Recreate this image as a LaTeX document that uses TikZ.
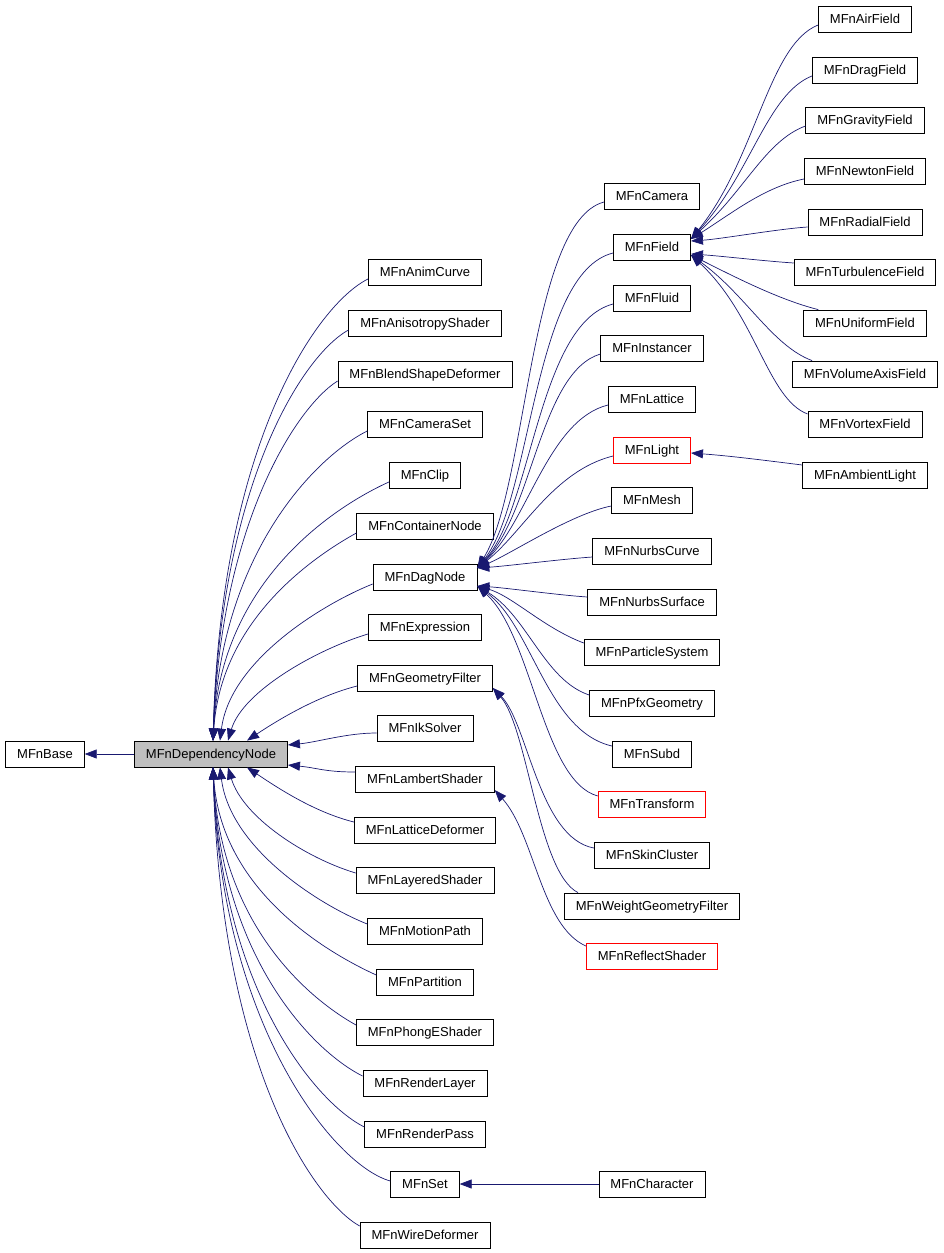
\documentclass[tikz,border=0pt]{standalone}
\usepackage{fontspec}
\setmainfont{Liberation Sans}
\usetikzlibrary{arrows.meta}
\definecolor{mblue}{HTML}{191970}
\definecolor{depgray}{HTML}{BFBFBF}
\tikzset{
  box/.style={draw=black, fill=white, line width=0.8pt, minimum height=26pt, inner xsep=11.5pt, inner ysep=0pt, text height=12pt, text depth=3pt, font=\fontsize{13}{15}\selectfont},
  redbox/.style={box, draw=red},
  inh/.style={draw=mblue, line width=0.7pt, -{Triangle[length=12pt,width=9pt]}}
}
\begin{document}
\begin{tikzpicture}[x=1pt,y=-1pt]
\useasboundingbox (0,0) rectangle (944,1253);
% base nodes
\node[box] (base) at (45,754) {MFnBase};
\node[box, fill=depgray] (dep) at (211,754) {MFnDependencyNode};
% left column
\node[box] (anim) at (425,272) {MFnAnimCurve};
\node[box] (aniso) at (425,323) {MFnAnisotropyShader};
\node[box] (blend) at (425,374) {MFnBlendShapeDeformer};
\node[box] (camset) at (425,424) {MFnCameraSet};
\node[box] (clip) at (425,475) {MFnClip};
\node[box] (cont) at (425,526) {MFnContainerNode};
\node[box] (dag) at (425,577) {MFnDagNode};
\node[box] (expr) at (425,627) {MFnExpression};
\node[box] (geo) at (425,678) {MFnGeometryFilter};
\node[box] (ik) at (425,728) {MFnIkSolver};
\node[box] (lam) at (425,779) {MFnLambertShader};
\node[box] (latd) at (425,830) {MFnLatticeDeformer};
\node[box] (layer) at (425,880) {MFnLayeredShader};
\node[box] (motion) at (425,931) {MFnMotionPath};
\node[box] (part) at (425,982) {MFnPartition};
\node[box] (phong) at (425,1032) {MFnPhongEShader};
\node[box] (rlayer) at (425,1083) {MFnRenderLayer};
\node[box] (rpass) at (425,1134) {MFnRenderPass};
\node[box] (set) at (425,1184) {MFnSet};
\node[box] (wire) at (425,1235) {MFnWireDeformer};
% middle column
\node[box] (cam) at (652,196) {MFnCamera};
\node[box] (field) at (652,247) {MFnField};
\node[box] (fluid) at (652,298) {MFnFluid};
\node[box] (inst) at (652,348) {MFnInstancer};
\node[box] (lattice) at (652,399) {MFnLattice};
\node[redbox] (light) at (652,450) {MFnLight};
\node[box] (mesh) at (652,500) {MFnMesh};
\node[box] (ncurve) at (652,551) {MFnNurbsCurve};
\node[box] (nsurf) at (652,602) {MFnNurbsSurface};
\node[box] (psys) at (652,652) {MFnParticleSystem};
\node[box] (pfx) at (652,703) {MFnPfxGeometry};
\node[box] (subd) at (652,754) {MFnSubd};
\node[redbox] (trans) at (652,804) {MFnTransform};
\node[box] (skin) at (652,855) {MFnSkinCluster};
\node[box] (wgf) at (652,906) {MFnWeightGeometryFilter};
\node[redbox] (refl) at (652,956) {MFnReflectShader};
\node[box] (chara) at (652,1184) {MFnCharacter};
% right column
\node[box] (air) at (865,19) {MFnAirField};
\node[box] (drag) at (865,70) {MFnDragField};
\node[box] (grav) at (865,120) {MFnGravityField};
\node[box] (newt) at (865,171) {MFnNewtonField};
\node[box] (rad) at (865,222) {MFnRadialField};
\node[box] (turb) at (865,272) {MFnTurbulenceField};
\node[box] (unif) at (865,323) {MFnUniformField};
\node[box] (vol) at (865,374) {MFnVolumeAxisField};
\node[box] (vort) at (865,424) {MFnVortexField};
\node[box] (amb) at (865,475) {MFnAmbientLight};
% edges to base
\draw[inh] (dep.west) -- (base.east);
% edges to dependency node (above)
\draw[inh] ([yshift=-7pt]anim.west) .. controls +(-50,25) and +(8,-300) .. ([xshift=2pt]dep.north);
\draw[inh] ([yshift=-7pt]aniso.west) .. controls +(-45,25) and +(8,-260) .. ([xshift=2pt]dep.north);
\draw[inh] ([yshift=-7pt]blend.west) .. controls +(-40,25) and +(8,-220) .. ([xshift=2pt]dep.north);
\draw[inh] ([yshift=-7pt]camset.west) .. controls +(-50,25) and +(8,-190) .. ([xshift=2pt]dep.north);
\draw[inh] ([yshift=-7pt]clip.west) .. controls +(-55,25) and +(8,-160) .. ([xshift=2pt]dep.north);
\draw[inh] ([yshift=-7pt]cont.west) .. controls +(-45,25) and +(8,-120) .. ([xshift=2pt]dep.north);
\draw[inh] ([yshift=-7pt]dag.west) .. controls +(-50,20) and +(10,-80) .. ([xshift=9pt]dep.north);
\draw[inh] ([yshift=-7pt]expr.west) .. controls +(-50,15) and +(15,-50) .. ([xshift=17pt]dep.north);
\draw[inh] ([yshift=-8pt]geo.west) .. controls +(-40,10) and +(30,-20) .. ([xshift=36pt]dep.north);
\draw[inh] ([yshift=-5pt]ik.west) .. controls +(-30,0) and +(30,-3) .. ([yshift=9pt]dep.east);
\draw[inh] ([yshift=7pt]lam.west) .. controls +(-30,0) and +(30,3) .. ([yshift=-11pt]dep.east);
% edges to dependency node (below)
\draw[inh] ([yshift=8pt]latd.west) .. controls +(-40,-10) and +(30,20) .. ([xshift=36pt]dep.south);
\draw[inh] ([yshift=7pt]layer.west) .. controls +(-50,-15) and +(15,50) .. ([xshift=17pt]dep.south);
\draw[inh] ([yshift=7pt]motion.west) .. controls +(-50,-20) and +(10,80) .. ([xshift=9pt]dep.south);
\draw[inh] ([yshift=7pt]part.west) .. controls +(-55,-25) and +(8,120) .. ([xshift=2pt]dep.south);
\draw[inh] ([yshift=7pt]phong.west) .. controls +(-45,-25) and +(8,160) .. ([xshift=2pt]dep.south);
\draw[inh] ([yshift=7pt]rlayer.west) .. controls +(-50,-25) and +(8,190) .. ([xshift=2pt]dep.south);
\draw[inh] ([yshift=7pt]rpass.west) .. controls +(-50,-25) and +(8,220) .. ([xshift=2pt]dep.south);
\draw[inh] ([yshift=3pt]set.west) .. controls +(-55,-15) and +(8,260) .. ([xshift=2pt]dep.south);
\draw[inh] ([yshift=9pt]wire.west) .. controls +(-45,-25) and +(8,300) .. ([xshift=2pt]dep.south);
% edges to dag node
\draw[inh] ([yshift=-6pt]cam.west) .. controls +(-75,20) and +(50,-80) .. ([yshift=9pt]dag.east);
\draw[inh] ([yshift=-6pt]field.west) .. controls +(-80,20) and +(55,-70) .. ([yshift=9pt]dag.east);
\draw[inh] ([yshift=-6pt]fluid.west) .. controls +(-75,20) and +(55,-60) .. ([yshift=9pt]dag.east);
\draw[inh] ([yshift=-6pt]inst.west) .. controls +(-60,18) and +(55,-55) .. ([yshift=9pt]dag.east);
\draw[inh] ([yshift=-6pt]lattice.west) .. controls +(-60,15) and +(50,-45) .. ([yshift=9pt]dag.east);
\draw[inh] ([yshift=-6pt]light.west) .. controls +(-60,15) and +(45,-35) .. ([yshift=9pt]dag.east);
\draw[inh] ([yshift=-6pt]mesh.west) .. controls +(-40,8) and +(35,-15) .. ([yshift=9pt]dag.east);
\draw[inh] ([yshift=-6pt]ncurve.west) .. controls +(-30,2) and +(30,-2) .. ([yshift=9pt]dag.east);
\draw[inh] ([yshift=5pt]nsurf.west) .. controls +(-30,-2) and +(30,2) .. ([yshift=-9pt]dag.east);
\draw[inh] ([yshift=9pt]psys.west) .. controls +(-40,-15) and +(35,10) .. ([yshift=-9pt]dag.east);
\draw[inh] ([yshift=8pt]pfx.west) .. controls +(-45,-15) and +(50,30) .. ([yshift=-9pt]dag.east);
\draw[inh] ([yshift=8pt]subd.west) .. controls +(-65,-15) and +(55,40) .. ([yshift=-9pt]dag.east);
\draw[inh] ([yshift=8pt]trans.west) .. controls +(-55,-15) and +(55,50) .. ([yshift=-9pt]dag.east);
% edges to geometry filter and lambert shader
\draw[inh] ([yshift=7pt]skin.west) .. controls +(-55,-10) and +(35,35) .. ([yshift=-10pt]geo.east);
\draw[inh] ([xshift=14pt]wgf.north west) .. controls +(-40,-20) and +(35,40) .. ([yshift=-10pt]geo.east);
\draw[inh] ([yshift=10pt]refl.west) .. controls +(-45,-20) and +(40,45) .. ([yshift=-11pt]lam.east);
% edges to field
\draw[inh] ([yshift=-6pt]air.west) .. controls +(-50,20) and +(65,-80) .. ([yshift=8pt]field.east);
\draw[inh] ([yshift=-6pt]drag.west) .. controls +(-45,18) and +(60,-65) .. ([yshift=8pt]field.east);
\draw[inh] ([yshift=-6pt]grav.west) .. controls +(-40,15) and +(55,-50) .. ([yshift=8pt]field.east);
\draw[inh] ([yshift=-8pt]newt.west) .. controls +(-40,8) and +(40,-25) .. ([yshift=8pt]field.east);
\draw[inh] ([yshift=-5pt]rad.west) .. controls +(-30,2) and +(30,-2) .. ([yshift=6pt]field.east);
\draw[inh] ([yshift=9pt]turb.west) .. controls +(-30,-2) and +(30,2) .. ([yshift=-7pt]field.east);
\draw[inh] ([xshift=15pt]unif.north west) .. controls +(-40,-10) and +(40,20) .. ([yshift=-8pt]field.east);
\draw[inh] ([xshift=20pt]vol.north west) .. controls +(-40,-15) and +(55,40) .. ([yshift=-8pt]field.east);
\draw[inh] ([yshift=10pt]vort.west) .. controls +(-40,-15) and +(65,60) .. ([yshift=-8pt]field.east);
% other edges
\draw[inh] ([yshift=10pt]amb.west) .. controls +(-40,-5) and +(40,3) .. ([yshift=-3pt]light.east);
\draw[inh] (chara.west) -- (set.east);
\end{tikzpicture}
\end{document}
